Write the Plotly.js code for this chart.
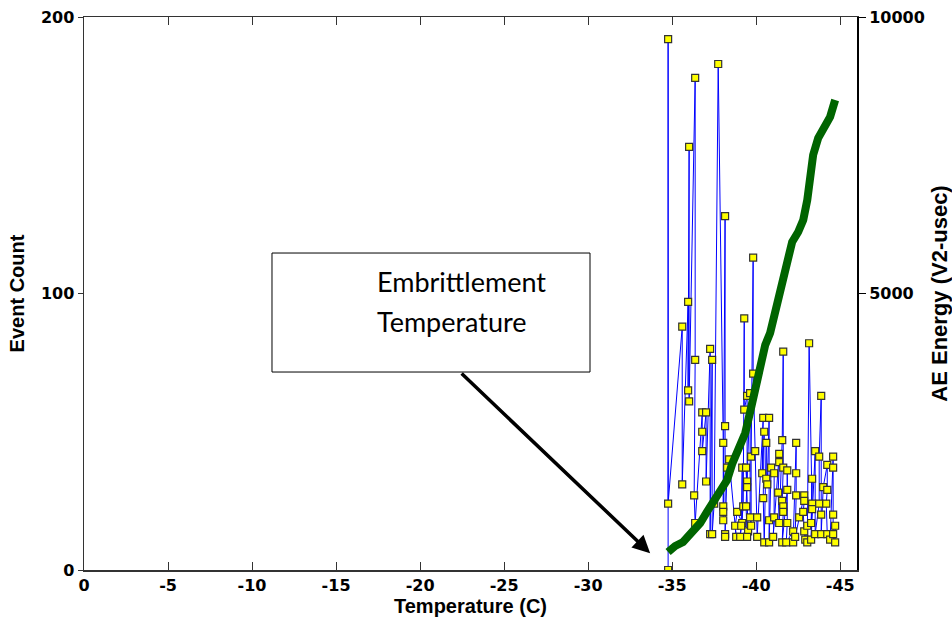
<!DOCTYPE html>
<html>
<head>
<meta charset="utf-8">
<script src="https://cdn.plot.ly/plotly-3.0.1.min.js"></script>
<style>html,body{margin:0;padding:0;background:#fff;}#chart{width:952px;height:628px;}</style>
</head>
<body>
<div id="chart"></div>
<script>
// Event count series (temperature, count)
var eventTemp = [
-34.76,-34.76,-34.76,
-35.60,-35.60,
-35.95,-35.95,
-36.01,-36.01,
-36.37,-36.37,-36.31,-36.37,
-36.79,-36.79,-36.79,
-37.02,-37.02,
-37.26,-37.26,
-37.38,-37.38,
-37.50,
-37.74,
-38.04,-38.04,-38.04,-38.04,
-38.15,-38.15,-38.15,-38.15,
-38.27,
-38.39,
-38.81,-38.75,-38.87,
-39.17,-39.17,-39.11,-39.05,-39.23,
-39.29,-39.29,
-39.46,-39.46,-39.46,-39.40,-39.52,-39.46,-39.40,
-39.64,-39.64,-39.70,-39.70,
-39.82,-39.82,-39.94,
-40.06,-40.06,
-40.42,-40.36,-40.48,-40.42,-40.48,
-40.60,-40.60,-40.66,
-40.77,-40.77,-40.77,
-40.89,
-41.07,-41.07,-41.01,
-41.37,-41.37,-41.31,-41.37,
-41.55,-41.61,-41.61,-41.55,-41.61,-41.61,-41.55,
-41.85,-41.85,-41.85,-41.79,
-42.20,-42.20,
-42.38,-42.38,-42.38,-42.32,
-42.56,
-42.86,-42.86,-42.80,-42.86,-42.92,
-43.04,-43.04,
-43.15,
-43.33,-43.33,-43.27,-43.33,-43.27,
-43.51,-43.51,
-43.75,-43.75,
-43.87,-43.87,-43.87,
-43.99,
-44.23,-44.23,-44.17,-44.23,
-44.40,
-44.58,-44.58,-44.58,-44.58,
-44.70,-44.70
];
var eventCount = [
0,192,24,
88,31,
97,65,
153,61,
178,76,27,17,
57,50,43,
57,32,
80,13,
76,13,
24,
183,
46,23,21,18,
128,52,13,12,
37,
40,
12,16,21,
17,37,16,12,23,
91,58,
63,32,30,37,14,12,23,
64,19,16,41,
113,71,43,
19,12,
55,35,50,26,10,
46,33,31,
55,18,10,
37,
35,19,12,
42,39,28,17,
47,79,37,25,23,21,10,
29,36,17,10,
14,10,
46,35,27,12,
19,
27,25,21,14,11,
16,10,
82,
24,22,17,33,11,
43,13,
24,41,
63,20,13,
30,
38,29,24,13,
11,
41,37,20,13,
10,16
];
// Cumulative AE energy (temperature, energy)
var energyTemp = [-34.76,-35.18,-35.65,-36.25,-36.67,-37.14,-37.68,-38.27,-38.57,-38.93,-39.35,-39.64,-40.06,-40.24,-40.54,-40.83,-41.13,-41.43,-41.61,-41.90,-42.14,-42.50,-42.80,-43.04,-43.21,-43.39,-43.69,-44.11,-44.40,-44.70];
var energyVal = [325,434,506,705,850,1085,1320,1627,1917,2206,2477,2857,3436,3562,4069,4286,4647,5009,5298,5660,5931,6112,6329,6691,7143,7505,7812,8047,8192,8499];
var xTicks = [0,-5,-10,-15,-20,-25,-30,-35,-40,-45];
var y1Ticks = [0,100,200];
var y2Ticks = [5000,10000];
var boxText = ["Embrittlement","Temperature"];

var tickFontB = {family:"DejaVu Sans, Liberation Sans, sans-serif", size:16, color:"#000", weight:"bold"};
var titleFam = "Liberation Sans, Arial, sans-serif";
var traces = [
  {x:eventTemp, y:eventCount, type:"scatter", mode:"lines+markers", xaxis:"x", yaxis:"y",
   line:{color:"#0000ff", width:1},
   marker:{symbol:"square", size:7, color:"#ffff00", line:{color:"#333", width:1.2}},
   showlegend:false, hoverinfo:"skip"},
  {x:energyTemp, y:energyVal, type:"scatter", mode:"lines", xaxis:"x", yaxis:"y2",
   line:{color:"#006400", width:8},
   showlegend:false, hoverinfo:"skip"}
];
var layout = {
  width:952, height:628,
  margin:{l:84, r:95, t:17, b:58},
  paper_bgcolor:"#fff", plot_bgcolor:"#fff",
  showlegend:false,
  xaxis:{range:[0,-46], tickvals:xTicks, ticktext:xTicks.map(String),
    showline:true, linecolor:"#333", linewidth:1.5, mirror:"ticks",
    ticks:"inside", ticklen:8, tickcolor:"#333", showgrid:false, zeroline:false,
    tickfont:tickFontB,
    title:{text:"Temperature (C)", font:{family:titleFam, size:20, color:"#000", weight:"bold"}, standoff:4}},
  yaxis:{range:[0,200], tickvals:y1Ticks, ticktext:y1Ticks.map(String), showline:true, linecolor:"#333", linewidth:1.5,
    ticks:"outside", ticklen:5, tickcolor:"#333", showgrid:false, zeroline:false,
    tickfont:tickFontB,
    title:{text:"Event Count", font:{family:titleFam, size:20, color:"#000", weight:"bold"}, standoff:11}},
  yaxis2:{range:[0,10000], tickvals:y2Ticks, ticktext:y2Ticks.map(String), overlaying:"y", side:"right", showline:true, linecolor:"#000", linewidth:2,
    ticks:"outside", ticklen:7, tickcolor:"#000", showgrid:false, zeroline:false,
    tickfont:tickFontB,
    title:{text:"AE Energy (V2-usec)", font:{family:titleFam, size:22, color:"#000", weight:"bold"}, standoff:10}},
  shapes:[
    {type:"rect", xref:"paper", yref:"paper", x0:0.2432, x1:0.6546, y0:0.3580, y1:0.5732,
     line:{color:"#000", width:1}, fillcolor:"#fff", layer:"above"}
  ],
  annotations:[
    {xref:"x", yref:"y", x:-33.69, y:6.1, ax:-190, ay:-181, text:"", showarrow:true,
     arrowhead:2, arrowsize:1, arrowwidth:3.5, arrowcolor:"#000"},
    {xref:"paper", yref:"paper", x:0.376, y:0.5208, xanchor:"left", yanchor:"middle", showarrow:false,
     text:boxText[0], font:{family:"Lato, Open Sans, sans-serif", size:27, color:"#000"}},
    {xref:"paper", yref:"paper", x:0.376, y:0.4485, xanchor:"left", yanchor:"middle", showarrow:false,
     text:boxText[1], font:{family:"Lato, Open Sans, sans-serif", size:27, color:"#000"}}
  ]
};
Plotly.newPlot("chart", traces, layout, {displayModeBar:false, staticPlot:true});
</script>
</body>
</html>
